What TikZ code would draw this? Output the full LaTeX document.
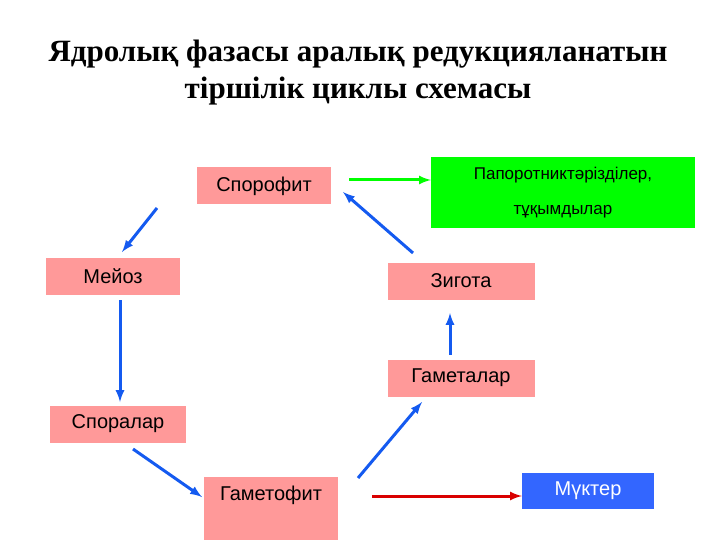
\documentclass[tikz,border=0pt]{standalone}
\usepackage{fontspec}
\setmainfont{Liberation Serif}
\setsansfont{Liberation Sans}
\usetikzlibrary{positioning}
\definecolor{pink}{RGB}{255,153,153}
\definecolor{lime}{RGB}{0,255,0}
\definecolor{sky}{RGB}{51,102,255}
\definecolor{arr}{RGB}{20,90,240}
\begin{document}
\begin{tikzpicture}[
    , x = 1pt, y = -1pt
    , font = \sffamily
    , b/.style = {
      , fill = pink
      , minimum width = 134pt
      , minimum height = 37pt
      , font = \sffamily\fontsize{20}{22}\selectfont
      , inner sep = 0pt
    }
    , a/.style = {-latex, line width = 3pt, draw = arr}
  ]
    \useasboundingbox (0,0) rectangle (720,540);
    \node (title) [align = center, font = \bfseries\fontsize{31}{37}\selectfont]
      at (358,73) {Ядролық фазасы аралық редукцияланатын\\тіршілік циклы схемасы};
    \node (spor) [b] at (264,186) {Спорофит};
    \node (fern) [fill = lime, minimum width = 264pt, minimum height = 71pt,
      align = center, font = \sffamily\fontsize{17}{35}\selectfont] at (563,193)
      {Папоротниктәрізділер,\\тұқымдылар};
    \node (mei) [b] at (113,276) {Мейоз};
    \node (zyg) [b, minimum width = 147pt] at (461,281) {Зигота};
    \node (gam) [b, minimum width = 147pt] at (461,378) {Гаметалар};
    \node (spl) [b, minimum width = 136pt] at (118,424) {Споралар};
    \node (gph) [b, minimum height = 63pt, text depth = 30pt] at (271,508) {Гаметофит};
    \node (moss) [fill = sky, text = white, minimum width = 132pt, minimum height = 36pt,
      font = \sffamily\fontsize{20}{22}\selectfont] at (588,491) {Мүктер};
    % connectors
    \coordinate (s1) at (157,208); \coordinate (m1) at (122,252);
    \coordinate (m2) at (120,300); \coordinate (p1) at (120,402);
    \coordinate (p2) at (133,449); \coordinate (g1) at (202,497);
    \coordinate (g2) at (358,478); \coordinate (t1) at (422,402);
    \coordinate (t2) at (450,355); \coordinate (z1) at (450,313);
    \coordinate (z2) at (413,253); \coordinate (s2) at (343,192);
    \draw [a] (s1) -- (m1);
    \draw [a] (m2) -- (p1);
    \draw [a] (p2) -- (g1);
    \draw [a] (g2) -- (t1);
    \draw [a] (t2) -- (z1);
    \draw [a] (z2) -- (s2);
    \draw [-latex, line width = 3pt, lime] (spor.east) ++(18,-6) -- (fern.west |- 0,180);
    \draw [-latex, line width = 3pt, red!85!black] (372,496) -- (moss.west |- 0,496);
\end{tikzpicture}
\end{document}
